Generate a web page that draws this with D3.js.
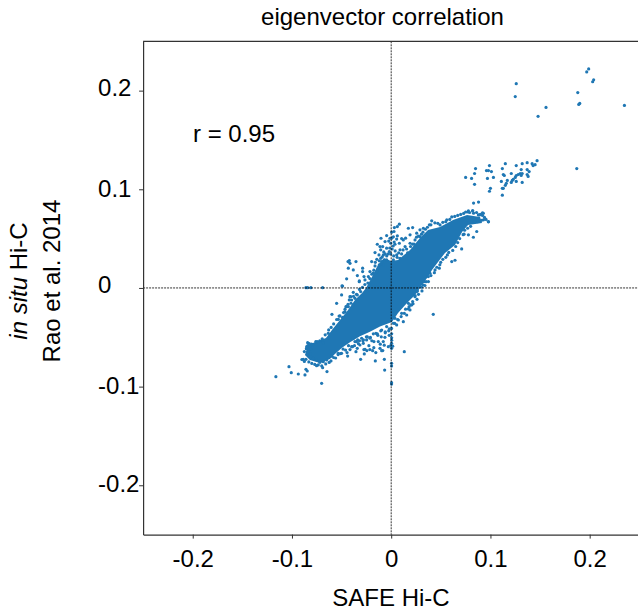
<!DOCTYPE html>
<html>
<head>
<meta charset="utf-8">
<script src="https://cdn.jsdelivr.net/npm/d3@7"></script>
<style>
  html, body { margin: 0; padding: 0; background: #fff; overflow: hidden; }
  text { font-family: "Liberation Sans", Arial, sans-serif; fill: #000; }
</style>
</head>
<body>
<div id="chart"></div>
<script>
const xTicks = [-0.2, -0.1, 0, 0.1, 0.2];
const yTicks = [0.2, 0.1, 0, -0.1, -0.2];
const xTickLabels = ["-0.2", "-0.1", "0", "0.1", "0.2"];
const yTickLabels = ["0.2", "0.1", "0", "-0.1", "-0.2"];

// the middle of the cloud is solid colour, single points can't be read there,
// so it's drawn as one shape from its estimated outline
const coreOutline = [
  [-.0869,-.0679],[-.0839,-.0578],[-.0738,-.0537],[-.0657,-.0507],[-.0597,-.0426],[-.0516,-.0324],
  [-.0435,-.0223],[-.0365,-.0122],[-.0294,-.0051],[-.0254,0],[-.0194,.0112],[-.0133,.0233],
  [-.0073,.0304],[-.0002,.0274],[.0069,.0284],[.019,.0385],[.029,.0507],[.0371,.0588],[.0492,.0619],
  [.0623,.069],[.0764,.074],[.0895,.072],[.0915,.0659],[.0774,.0639],[.0714,.0568],[.0643,.0436],
  [.0542,.0355],[.0472,.0264],[.0411,.0183],[.0361,.0101],[.029,0],[.024,-.0071],[.0159,-.0152],
  [.0069,-.0254],[.0008,-.0345],[-.0113,-.039],[-.0214,-.0445],[-.0315,-.049],[-.0415,-.055],
  [-.0496,-.0605],[-.0567,-.067],[-.0617,-.072],[-.0718,-.076],[-.0819,-.073]
];

// outliers at the top right
const farPoints = [
  [.199,.222],[.197,.219],[.204,.211],[.203,.209],[.188,.198],[.19,.187],[.189,.186],[.235,.185],
  [.126,.207],[.125,.194],[.156,.183],[.148,.174],[.187,.121]
];

// the small group around (0.12, 0.11)
const clusterPoints = [
  [.147,.129],[.145,.125],[.143,.124],[.142,.126],[.137,.127],[.132,.126],[.126,.124],[.115,.126],
  [.112,.121],[.099,.124],[.085,.121],[.084,.116],[.075,.112],[.081,.111],[.084,.105],[.096,.119],
  [.098,.119],[.101,.118],[.097,.111],[.103,.112],[.1,.101],[.099,.098],[.112,.094],[.112,.101],
  [.113,.101],[.111,.108],[.113,.115],[.114,.114],[.115,.104],[.116,.106],[.117,.109],[.121,.116],
  [.121,.107],[.122,.109],[.123,.11],[.125,.112],[.126,.108],[.126,.114],[.128,.115],[.13,.116],
  [.131,.12],[.132,.107],[.131,.114],[.132,.116],[.137,.12],[.139,.118],[.137,.115],[.138,.113],
  [.088,.087],[.083,.086],[.082,.078],[.077,.077],[.098,.067],[.092,.076],[.093,.069],[.089,.074]
];

// scattered points above the band
const upperPoints = [
  [.0082,.0646],[.0032,.0612],[.0062,.0622],[.0005,.0565],[.0028,.0572],[-.0012,.0504],[.0022,.0518],
  [.0062,.0528],[-.0046,.0531],[-.0103,.0504],[-.014,.0443],[-.0113,.0419],[-.0062,.047],[-.0163,.0359],
  [-.0123,.0335],[-.0106,.0386],[-.0086,.0419],[-.0005,.0453],[.0038,.0443],[.0082,.0453],[.0122,.0487],
  [.019,.0538],[.0173,.0605],[.0216,.0612],[.0257,.0555],[.029,.0589],[.0324,.0605],[.0408,.068],
  [.0492,.0639],[.056,.069],[.0778,.0781],[.0821,.0785],[.0929,.0757],[.0979,.0673],[.0878,.074],
  [.0089,.0386],[.0055,.0335],[.0022,.0284],[.014,.0419],[.019,.0453],[.024,.0487],[.029,.0521],
  [.0089,.0301],[-.0046,.0403],[-.0019,.0369],[-.0079,.0335],[-.0046,.0284],[-.0096,.0267],[-.012,.0233],
  [-.0079,.0233],[-.0146,.0166],[-.018,.015],[-.013,.02],[-.0422,.0278],[-.0435,.0267],[-.0415,.025],
  [-.0355,.0267],[-.0432,.02],[-.0382,.0183],[-.0288,.02],[-.0288,.0166],[-.0449,.0092],[-.0341,.0125],
  [-.0274,.0115],[-.0321,.0071],[-.0197,.0267],[-.0163,.0223],[-.0214,.0166],[-.023,.0115],[-.0264,.0081],
  [-.0496,.0021],[-.0382,-.0044],[-.0408,-.0088],[-.0422,-.0121],[-.0382,-.0172],[-.0449,-.0189],[-.0466,-.024],
  [-.0859,.0003],[-.0842,.0003],[-.0809,.0003],[-.0691,.0003],[-.049,.002],[-.05,-.0071],[-.055,-.0156],
  [-.0597,-.0267],[-.0516,-.0284],[-.0533,-.0318],[-.049,-.0298],[-.0416,-.0088],[-.0399,-.0122],
  [-.0432,-.019],[-.0456,-.019],[-.0342,-.0071],[-.0365,-.0105],[-.0308,-.0037],[-.0322,.0064],
  [-.0175,.018],[-.016,.026],[-.0145,.029],[-.012,.0275],[-.0105,.03],[-.009,.0315],[-.0075,.0365],
  [-.006,.0345],[-.0045,.0325],[-.003,.0345],[-.0015,.0405],[-.0005,.0345],[.001,.0395],[.0025,.0325],
  [.004,.0375],[.006,.031],[.0075,.0355],[.0105,.0345],[.012,.0385],[.0155,.0395],[.0165,.0355],
  [.0195,.042],[.0215,.0445],[.023,.0445],[.0255,.0515],[.0275,.0525],[.0305,.0545],[.032,.0565],
  [.0345,.0595],[.0365,.0615],[.0385,.064],[.003,.0465],[.0005,.0505],[.0055,.0495],[.0105,.05],
  [.0145,.0505],[.002,.0425],[-.0025,.0475]
];

// edge of the band, upper right part and its lower side
const bandEdgePoints = [
  [.04,.064],[.044,.066],[.047,.0655],[.052,.0665],[.055,.0672],[.059,.0695],[.061,.072],[.064,.0725],
  [.067,.0735],[.07,.0745],[.073,.0755],[.075,.077],[.079,.0765],[.083,.0758],[.086,.0765],[.09,.0745],
  [.092,.0735],[.094,.0715],[.0955,.0695],[.091,.0685],[.087,.0672],[.084,.0668],[.08,.0625],[.077,.0605],
  [.074,.0585],[.0725,.054],[.069,.05],[.067,.046],[.065,.042],[.062,.038],[.058,.036],[.055,.031],
  [.052,.029],[.049,.0235],[.046,.021],[.0435,.0155],[.04,.0125],[.0375,.0065],[.034,.0025],[.031,-.003],
  [.0275,-.0065],[.026,-.0115],[.022,-.016],[.018,-.019],[.0145,-.0215],[.01,-.029],[.0065,-.032],[.0035,-.036],
  [-.002,-.0415],[-.006,-.0445],[-.0105,-.0435],[-.014,-.0465],[-.018,-.0465],[-.021,-.05],[-.025,-.0495],
  [-.028,-.0525],[-.032,-.0535],[-.035,-.0545],[-.039,-.0595],[-.043,-.0585],[-.046,-.063],[-.0485,-.062],
  [-.051,-.0665],[-.0535,-.0675],[-.056,-.071],[-.058,-.0705],[-.0625,-.0755],[-.066,-.077],[-.07,-.079],
  [-.0735,-.078],[-.077,-.0775],[-.08,-.0765],[-.083,-.075],[-.0875,-.0745],[-.09,-.0725],
  [-.0875,-.0645],[-.0855,-.0615],[-.084,-.0585],[-.0825,-.0565],[-.079,-.0575],[-.076,-.0545],[-.072,-.0535],
  [-.0695,-.0515],[-.0665,-.0475],[-.063,-.0425],[-.0605,-.04],[-.058,-.0365],[-.055,-.032],[-.0525,-.0285],
  [-.048,-.025],[-.0465,-.0215],[-.0435,-.0165],[-.0405,-.0155],[-.038,-.0085],[-.035,-.0065],[-.032,-.0015],
  [-.029,.0005],[-.0265,.0035],[-.0235,.005],[-.0215,.0095],[-.0195,.014]
];

// scattered points below the band, right side
const lowerRightPoints = [
  [.0862,.0572],[.0828,.0514],[.0778,.0538],[.0734,.0545],[.071,.0396],[.0643,.0281],[.061,.0267],
  [.0566,.0335],[.0499,.026],[.0485,.02],[.0442,.0183],[.0374,.0115],[.0391,.0149],[.0331,.0065],
  [.0307,.0007],[.0264,-.003],[.024,-.0077],[.0216,-.0138],[.0196,-.0172],[.0173,-.0213],[.0132,-.0257],
  [.0424,-.0267],[.0122,-.0342],[.0072,-.0325],[.0038,-.0308],[.0055,-.0375],[.0004,-.041],[.0021,-.0358],
  [.0156,-.0274],[.0105,-.0257],[.0189,-.0223],[.0206,-.0173],[.0173,-.0156],[.024,-.0088],[.0256,-.0037],
  [.0351,.0064],[.0324,.003]
];

// the lower tail and the points below it
const lowerTailPoints = [
  [-.0634,-.046],[-.0567,-.0426],[-.0842,-.0555],[-.0802,-.0568],[-.0852,-.0595],[-.0812,-.0622],
  [-.0745,-.0544],[-.0684,-.0555],[-.0886,-.0723],[-.0859,-.0723],[-.0819,-.0669],[-.0785,-.0713],
  [-.0752,-.073],[-.0718,-.0754],[-.0684,-.0747],[-.065,-.073],[-.0607,-.074],[-.06,-.069],
  [-.0533,-.0663],[-.05,-.0663],[-.0439,-.069],[-.0399,-.0595],[-.0355,-.0646],[-.0342,-.0612],
  [-.0308,-.0723],[-.0271,-.0669],[-.0264,-.0622],[-.0187,-.0636],[-.016,-.074],[-.0113,-.0612],
  [-.0096,-.0636],[-.0069,-.0723],[-.0066,-.0832],[.0004,-.0561],[.0004,-.0612],[.0004,-.0764],
  [.0004,-.0791],[.0004,-.096],[.0004,-.0974],[.0132,-.0646],[-.0029,-.0595],[-.008,-.0544],
  [-.0063,-.05],[-.013,-.0544],[-.0174,-.0544],[-.0154,-.046],[-.0096,-.0426],[-.0046,-.0392],
  [-.0214,-.051],[-.0248,-.0527],[-.0315,-.0578],[-.0338,-.0527],[-.0365,-.0544],[-.0382,-.051],
  [-.0281,-.0561],[-.0298,-.051],[-.1162,-.0899],[-.103,-.0798],[-.1007,-.0859],[-.0936,-.0872],
  [-.0869,-.0882],[-.0859,-.0825],[-.0846,-.0842],[-.0752,-.0788],[-.0691,-.0808],[-.0647,-.0848],
  [-.0701,-.0967],
  [-.0195,-.0535],[-.0225,-.0585],[-.0135,-.048],[-.01,-.0495],[-.006,-.0455],[-.0025,-.0435],[.0005,-.0465],
  [.0005,-.0505],[.0005,-.053],[-.0005,-.0585],[.0015,-.059],[-.002,-.048],[-.024,-.0495],[-.0285,-.0535],
  [-.033,-.0565],[-.037,-.0585],[-.0415,-.0625],[-.0445,-.0655],[-.0175,-.0605],[-.0215,-.0625],
  [-.0245,-.0635],[-.0275,-.0625],[-.011,-.057],[-.007,-.058],[-.0085,-.0635],[-.0155,-.0655]
];

const allPoints = [...farPoints, ...clusterPoints, ...upperPoints, ...bandEdgePoints, ...lowerRightPoints, ...lowerTailPoints];

const width = 638;
const height = 611;
const color = "#1f77b4";
const fontSize = "24px";

const x = d3.scaleLinear().domain([-0.25, 0.25]).range([143.1, 639.3]);
const y = d3.scaleLinear().domain([-0.25, 0.25]).range([534.6, 41.3]);

const svg = d3.select("#chart")
  .append("svg")
  .attr("width", width)
  .attr("height", height)
  .style("display", "block");

// cloud
svg.append("path")
  .attr("d", d3.line().x(d => x(d[0])).y(d => y(d[1])).curve(d3.curveLinearClosed)(coreOutline))
  .attr("fill", color);

svg.append("g")
  .selectAll("circle")
  .data(allPoints)
  .enter()
  .append("circle")
  .attr("cx", d => x(d[0]))
  .attr("cy", d => y(d[1]))
  .attr("r", 1.6)
  .attr("fill", color);

// zero lines
svg.append("line")
  .attr("x1", x(0)).attr("x2", x(0))
  .attr("y1", y(0.25)).attr("y2", y(-0.25))
  .attr("stroke", "#000").attr("stroke-width", 0.8).attr("stroke-dasharray", "2,1");

svg.append("line")
  .attr("x1", x(-0.25)).attr("x2", x(0.25))
  .attr("y1", y(0)).attr("y2", y(0))
  .attr("stroke", "#000").attr("stroke-width", 0.8).attr("stroke-dasharray", "2,1");

// axes
const xAxis = svg.append("g")
  .attr("transform", `translate(0, ${y(-0.25)})`)
  .call(d3.axisBottom(x).tickValues(xTicks).tickSize(4).tickSizeOuter(0).tickPadding(11).tickFormat((d, i) => xTickLabels[i]));

const yAxis = svg.append("g")
  .attr("transform", `translate(${x(-0.25)}, 0)`)
  .call(d3.axisLeft(y).tickValues(yTicks).tickSize(4).tickSizeOuter(0).tickFormat((d, i) => yTickLabels[i]));

// the labels sit flush left and a bit unevenly in the original
const yLabelShift = [-3, -0.5, -3.5, -1, -1];
yAxis.selectAll(".tick text")
  .attr("text-anchor", "start")
  .attr("x", -45)
  .attr("y", (d, i) => yLabelShift[i]);

[xAxis, yAxis].forEach(a => {
  a.selectAll("text").style("font-size", fontSize).style("font-family", '"Liberation Sans", Arial, sans-serif');
  a.selectAll("line").attr("stroke", "#333").attr("stroke-width", 1);
  a.select(".domain").attr("stroke", "#333").attr("stroke-width", 1.2);
});

// top spine only, the right one is off the page
svg.append("line")
  .attr("x1", x(-0.25)).attr("x2", x(0.25))
  .attr("y1", y(0.25)).attr("y2", y(0.25))
  .attr("stroke", "#333").attr("stroke-width", 1.2);

// labels
svg.append("text")
  .attr("x", 382.5).attr("y", 25)
  .attr("text-anchor", "middle")
  .style("font-size", fontSize)
  .text("eigenvector correlation");

svg.append("text")
  .attr("x", 391).attr("y", 606)
  .attr("text-anchor", "middle")
  .style("font-size", fontSize)
  .text("SAFE Hi-C");

svg.append("text")
  .attr("x", 193).attr("y", 142)
  .style("font-size", fontSize)
  .text("r = 0.95");

const yLabel1 = svg.append("text")
  .attr("transform", "translate(27, 281) rotate(-90)")
  .attr("text-anchor", "middle")
  .style("font-size", fontSize);
yLabel1.append("tspan").style("font-style", "italic").text("in situ");
yLabel1.append("tspan").text(" Hi-C");

svg.append("text")
  .attr("transform", "translate(60, 281) rotate(-90)")
  .attr("text-anchor", "middle")
  .style("font-size", fontSize)
  .text("Rao et al. 2014");
</script>
</body>
</html>
